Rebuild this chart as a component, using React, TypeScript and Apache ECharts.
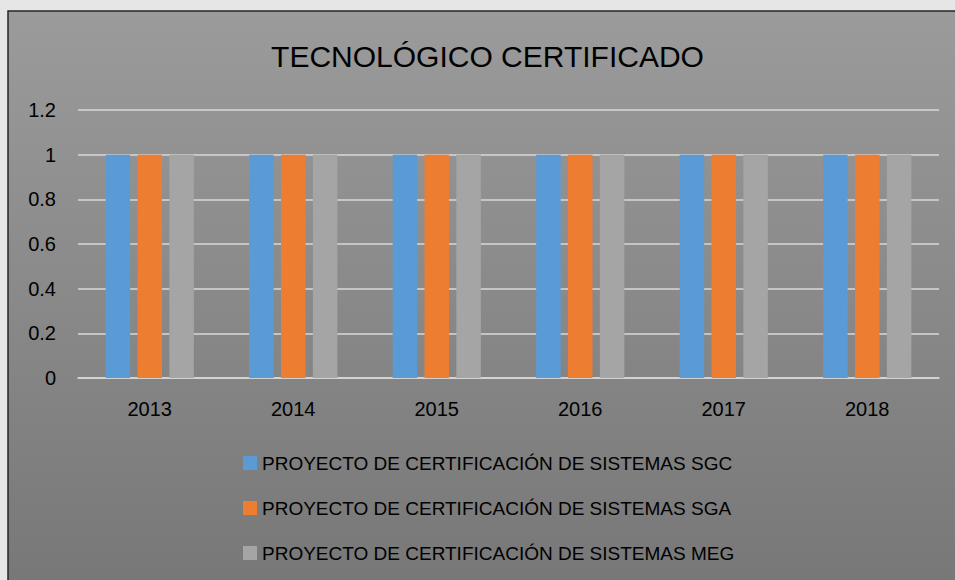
import React, { useEffect, useRef } from "react";
import * as echarts from "echarts";

const years = ["2013", "2014", "2015", "2016", "2017", "2018"];
const sgc = [1, 1, 1, 1, 1, 1];
const sga = [1, 1, 1, 1, 1, 1];
const meg = [1, 1, 1, 1, 1, 1];
const seriesNames = [
  "PROYECTO DE CERTIFICACIÓN DE SISTEMAS SGC",
  "PROYECTO DE CERTIFICACIÓN DE SISTEMAS SGA",
  "PROYECTO DE CERTIFICACIÓN DE SISTEMAS MEG",
];
const colors = ["#5B9BD5", "#ED7D31", "#A5A5A5"];
const titleText = "TECNOLÓGICO CERTIFICADO";

const FONT = "'Liberation Sans', Arial, sans-serif";

export default function App() {
  const ref = useRef<HTMLDivElement>(null);
  useEffect(() => {
    document.body.style.margin = "0";
    const chart = echarts.init(ref.current!, undefined, { renderer: "svg" });
    const gridColor = "#d9d9d9";
    chart.setOption({
      animation: false,
      backgroundColor: "#e6e6e6",
      color: colors,
      textStyle: { fontFamily: FONT },
      graphic: [
        {
          type: "rect",
          z: -10,
          silent: true,
          shape: { x: 8, y: 11, width: 960, height: 580 },
          style: {
            fill: new echarts.graphic.LinearGradient(0, 0, 0, 1, [
              { offset: 0, color: "#9b9b9b" },
              { offset: 1, color: "#777777" },
            ]),
            stroke: "#262626",
            lineWidth: 1.5,
          },
        },
        {
          type: "text",
          x: 487.5,
          y: 56,
          style: {
            text: titleText,
            fontFamily: FONT,
            fontSize: 30,
            fill: "#000",
            textAlign: "center",
            textVerticalAlign: "middle",
          },
        },
      ],
      grid: { left: 78, right: 16, top: 110, bottom: 202, containLabel: false },
      legend: {
        orient: "vertical",
        left: 243,
        top: 453,
        padding: 0,
        itemWidth: 14,
        itemHeight: 14,
        itemGap: 25,
        icon: "rect",
        data: seriesNames,
        textStyle: {
          fontFamily: FONT,
          fontSize: 19,
          lineHeight: 20,
          color: "#000",
        },
      },
      xAxis: {
        type: "category",
        data: years,
        axisTick: { show: false },
        axisLine: { lineStyle: { color: gridColor, width: 1.5 } },
        axisLabel: { fontFamily: FONT, fontSize: 20, color: "#000", margin: 21 },
      },
      yAxis: {
        type: "value",
        min: 0,
        max: 1.2,
        interval: 0.2,
        axisLine: { show: false },
        axisTick: { show: false },
        splitLine: { lineStyle: { color: gridColor, width: 1.5 } },
        axisLabel: { fontFamily: FONT, fontSize: 20, color: "#000", margin: 22 },
      },
      series: [
        { name: seriesNames[0], type: "bar", data: sgc, barWidth: 24.5, barGap: "30%" },
        { name: seriesNames[1], type: "bar", data: sga, barWidth: 24.5, barGap: "30%" },
        { name: seriesNames[2], type: "bar", data: meg, barWidth: 24.5, barGap: "30%" },
      ],
    });
    return () => chart.dispose();
  }, []);
  return <div ref={ref} style={{ width: 955, height: 580 }} />;
}
